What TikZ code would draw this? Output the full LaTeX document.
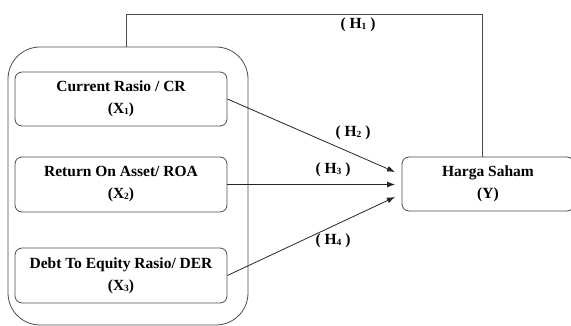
\documentclass[tikz,border=0pt]{standalone}
\usepackage{fontspec}
\setmainfont{Liberation Serif}
\usepackage{tikz}
\usetikzlibrary{arrows.meta}

\newcommand{\idx}[1]{\raisebox{-1pt}{\fontsize{9.5}{9.5}\selectfont #1}}

\begin{document}
\begin{tikzpicture}[x=1pt, y=-1pt,
    varbox/.style={draw=black!70, line width=0.8pt, rounded corners=7pt,
        align=center, minimum width=212pt, minimum height=54pt, inner sep=0pt,
        font=\fontsize{15.5}{22}\selectfont\bfseries},
    hyp/.style={font=\fontsize{15.5}{18}\selectfont\bfseries, inner sep=0pt},
    link/.style={draw=black!85, line width=0.8pt, -{Latex[length=8pt,width=6pt]}}]
    \useasboundingbox (0,0) rectangle (571,326);
    \clip (0,0) rectangle (571,326);

    % Draw the group of independent variables
    \node[draw=black!70, line width=0.8pt, rounded corners=32pt,
        minimum width=240pt, minimum height=278pt] (grp) at (128,186) {};
    \node[varbox] (cr) at (121,99) {Current Rasio / CR\\(X\idx{1})};
    \node[varbox, minimum height=55pt] (roa) at (121,184.5) {Return On Asset/ ROA\\(X\idx{2})};
    \node[varbox, minimum height=55pt] (der) at (121,275.5) {Debt To Equity Rasio/ DER\\(X\idx{3})};

    % Draw the dependent variable
    \node[varbox, minimum width=172pt] (hs) at (488,184) {Harga Saham\\(Y)};

    % Arrow ends in front of Y
    \coordinate (t2) at (395,172);
    \coordinate (t3) at (395,184.5);
    \coordinate (t4) at (395,197);
    \draw[link] (cr.east) -- (t2);
    \draw[link] (roa.east) -- (t3);
    \draw[link] (der.east) -- (t4);

    % Draw the simultaneous path H1
    \coordinate (h1a) at (126,14);
    \coordinate (h1b) at (482,14);
    \draw[black!70, line width=0.8pt] (grp.north -| h1a) -- (h1a) -- (h1b) -- (h1b |- hs.north);

    % Hypothesis labels
    \node[hyp] (lh1) at (358,25) {( H\idx{1} )};
    \node[hyp] (lh2) at (353,133) {( H\idx{2} )};
    \node[hyp] (lh3) at (333,170) {( H\idx{3} )};
    \node[hyp] (lh4) at (333,241) {( H\idx{4} )};
\end{tikzpicture}
\end{document}
